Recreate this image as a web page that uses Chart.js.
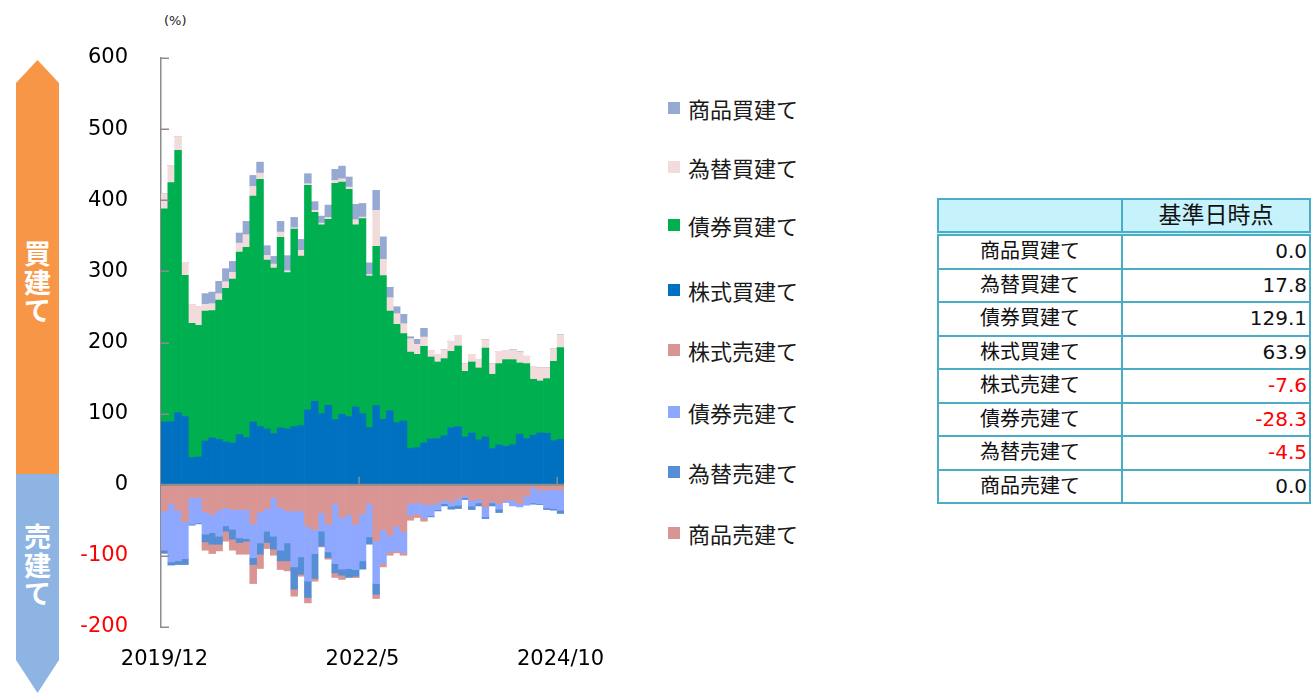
<!DOCTYPE html>
<html>
<head>
<meta charset="utf-8">
<script src="https://cdn.jsdelivr.net/npm/chart.js@4.4.0/dist/chart.umd.min.js"></script>
<style>
html,body{margin:0;padding:0;background:#fff;width:1316px;height:696px;overflow:hidden;font-family:"DejaVu Sans","Noto Sans CJK JP",sans-serif;}
#chartBox{position:absolute;left:0;top:0;width:640px;height:696px;}
.arrow{position:absolute;left:16px;width:43px;}
#buyArrow{top:60px;height:414px;background:#F79646;clip-path:polygon(50% 0,100% 23px,100% 100%,0 100%,0 23px);}
#sellArrow{top:474px;height:219px;background:#8DB4E2;clip-path:polygon(0 0,100% 0,100% calc(100% - 33px),50% 100%,0 calc(100% - 33px));}
.arrowText{position:absolute;left:0;width:100%;color:#fff;font-weight:bold;font-size:27px;line-height:28.5px;text-align:center;font-family:"Noto Sans CJK JP",sans-serif;}
#unit{position:absolute;left:164px;top:13px;font-size:13px;color:#222;}
#legend{position:absolute;left:0;top:0;}
.lg{position:absolute;left:668px;height:24px;display:flex;align-items:center;font-size:22px;color:#1a1a1a;white-space:nowrap;}
.lg i{display:inline-block;width:12px;height:12px;margin-right:8px;}
#tbl{position:absolute;left:937px;top:198px;border-collapse:collapse;font-size:20px;color:#111;}
#tbl td{border:2px solid #4BACC6;padding:0;height:31.5px;line-height:31.5px;}
#tbl tr.hd td{background:#C6F2FC;height:31px;line-height:31px;border-bottom:5px double #4BACC6;}
#tbl td.c1{width:182px;text-align:center;}
#tbl td.c2{width:184px;text-align:right;padding-right:2px;}
</style>
</head>
<body>
<div id="buyArrow" class="arrow"><div class="arrowText" style="top:179px">買<br>建<br>て</div></div>
<div id="sellArrow" class="arrow"><div class="arrowText" style="top:48px">売<br>建<br>て</div></div>
<div id="unit">(%)</div>
<div id="chartBox"><canvas id="c" width="640" height="696"></canvas></div>
<div id="legend"></div>
<table id="tbl"></table>
<script>
const categories = ['2019/12','2020/1','2020/2','2020/3','2020/4','2020/5','2020/6','2020/7','2020/8','2020/9','2020/10','2020/11','2020/12',
 '2021/1','2021/2','2021/3','2021/4','2021/5','2021/6','2021/7','2021/8','2021/9','2021/10','2021/11','2021/12',
 '2022/1','2022/2','2022/3','2022/4','2022/5','2022/6','2022/7','2022/8','2022/9','2022/10','2022/11','2022/12',
 '2023/1','2023/2','2023/3','2023/4','2023/5','2023/6','2023/7','2023/8','2023/9','2023/10','2023/11','2023/12',
 '2024/1','2024/2','2024/3','2024/4','2024/5','2024/6','2024/7','2024/8','2024/9','2024/10'];
const tickLabels = ['2019/12','2022/5','2024/10'];
const yTicks = {min:-200, max:600, step:100};

const stockBuy = [88.3,88.9,101.4,95.8,38.2,39.1,61.6,65.8,63.5,60.2,58.7,70.5,66.3,88.3,81.8,78.4,71.9,79.8,78.4,81.8,83.2,105.1,117.3,100,111.7,91.6,99.1,95.8,109.3,
 100,80.4,111.3,92,104.2,87.4,89.7,50.9,52.3,58.8,64.4,65,69.1,80.4,81.8,67.2,72.8,63,67.2,50.9,55.9,54.1,56.2,71,64.7,69.6,72.8,72.4,62.1,63.9];
const bondBuy = [299.8,335.8,368.7,198.6,188.8,185,182.7,179,196.2,215.9,230.5,256.7,267.5,317.6,347.5,237.5,232.8,268,219.8,277.7,238.3,315.8,265.6,265.6,261.4,332.1,326.4,319.5,256.3,
 274.1,213.1,223.9,202,140,138.1,122.7,135.7,131.1,135.8,115.2,107.6,108.2,107.2,113.3,92.3,99.8,101.2,125.1,104.4,114.4,121.8,119.7,100.2,105.6,78.7,73.1,76.8,111.5,129.1];
const fxBuy = [21.1,24.3,19.6,18.3,26.7,26.7,9.4,9.8,9,9.4,9.4,12.6,17.8,13.6,8.9,6.6,5.6,7.5,2.8,1.9,8,2.4,2.8,2.3,2.8,4.2,4.8,3.2,7.1,
 2.3,2.3,50.6,22.9,18.9,15.1,14.1,18.8,14,13.1,9.4,10.8,12.7,14.1,15,10.8,10.8,12.2,11.8,15,17.3,13.1,14.1,15.4,10.3,18.2,18.8,15.5,17.8,17.8];
const commBuy = [0,0,0,0,0,0,15,16.3,17.3,18.3,15.4,14.1,18.7,15.4,15.4,13.6,10.8,15,21.1,14.5,15.5,14,12.3,9.8,17.3,15.5,17.7,14,21.5,
 18.8,15.9,28.1,31.3,14.4,9.3,13.1,2.3,7.1,12.2,0,0,0,0,0,0,0,0,0,0,0,0,0,0,0,0,0,0,0,0];
const stockSell = [-36.8,-26.5,-35.8,-52.2,-18,-18,-38.2,-41.5,-35.8,-32.1,-34.9,-34.9,-34.9,-54.6,-38.2,-33.5,-18,-32.1,-36.8,-36.8,-36.8,-58.3,-63,-39.6,-55.5,-26.5,-46.1,-42,-55.5,
 -40.5,-26.5,-79,-63,-71,-58.3,-66.3,-26.5,-25.1,-27.4,-27.9,-25.6,-21.8,-24.1,-19.4,-14.8,-21.8,-20.4,-31.2,-23.2,-26.5,-21.8,-21.8,-26.5,-16.2,-4,-7.7,-7.7,-6.8,-7.6];
const bondSell = [-55.2,-82,-71.2,-51.6,-37.5,-35.6,-31.4,-25.7,-36.6,-25.7,-27.6,-39.8,-40.7,-47.8,-43.6,-31.8,-54.4,-59.9,-45,-78.7,-64.6,-77.3,-33.7,-25.7,-38.9,-84.3,-72.6,-75.8,-63.7,
 -66.5,-46.8,-59.9,-47.8,-23.4,-34.7,-29.5,-16.4,-15.4,-19.2,-15.9,-9.3,-4.7,-6.1,-9.4,-3.2,-8.4,-5.2,-14,-2.4,-7.9,-3.3,-8,-4.7,-12.6,-21.6,-18.8,-24.9,-26.7,-28.3];
const fxSell = [-3.8,-4.5,-5.2,-8.4,-1.4,-1.4,-10.7,-16.4,-11.2,-7.5,-14.1,-6.6,-3.8,-9.8,-15.9,-16,-18.2,-15,-25.2,-31.3,-24.4,-22.9,-35.1,-21.1,-8,-13.1,-8.5,-12.6,-9.4,
 -11.7,-10.3,-15,0,0,0,0,0,0,0,-1.4,-1.9,-3.3,-4.2,-4.7,-2.8,-4.7,-4.2,-2.4,-4.2,-4.7,0,0,0,0,-1.8,-1.4,-2.3,-2.3,-4.5];
const commSell = [-1,0,0,0,0,0,-11.7,-13.1,-9.4,-14.1,-15.4,-16.4,-18.3,-26.7,-20.1,-8.4,-8.5,-12.2,-14.1,-9.9,-2.8,-7.6,-3.8,-1,-2.3,-6.5,-6,0,-1.9,
 0,0,-6.1,-4.7,-4.7,-2.8,-3.3,-7,-5.6,-4.7,0,0,0,0,0,0,0,0,0,0,0,0,0,0,0,0,0,0,0,0];

const seriesNames = ['株式買建て','債券買建て','為替買建て','商品買建て','株式売建て','債券売建て','為替売建て','商品売建て'];
const seriesColors = ['#0070C0','#00B050','#F2DCDB','#95A9D2','#D99594','#8FA8FF','#558ED5','#D99594'];
const seriesData = [stockBuy,bondBuy,fxBuy,commBuy,stockSell,bondSell,fxSell,commSell];
const legendOrder = [3,2,1,0,4,5,6,7];
const legendY = [108,167,225,290,350,412,472,533];

const tableLabels = ['商品買建て','為替買建て','債券買建て','株式買建て','株式売建て','債券売建て','為替売建て','商品売建て'];
const tableValues = [0.0,17.8,129.1,63.9,-7.6,-28.3,-4.5,0.0];

// legend
const lg = document.getElementById('legend');
legendOrder.forEach((si,k)=>{
  const d = document.createElement('div');
  d.className='lg'; d.style.top=(legendY[k]-12)+'px';
  d.innerHTML = '<i style="background:'+seriesColors[si]+'"></i>'+seriesNames[si];
  lg.appendChild(d);
});
// table
const tb = document.getElementById('tbl');
let html = '<tr class="hd"><td class="c1"></td><td class="c2" style="text-align:center;padding-right:0;font-size:23px">基準日時点</td></tr>';
tableLabels.forEach((l,i)=>{
  const v = tableValues[i];
  html += '<tr><td class="c1">'+l+'</td><td class="c2" style="color:'+(v<0?'#FF0000':'#111')+'">'+v.toFixed(1)+'</td></tr>';
});
tb.innerHTML = html;

const innerTicks = {
  id:'innerTicks',
  afterDatasetsDraw(chart){
    const {ctx, chartArea, scales:{x,y}} = chart;
    ctx.save();
    ctx.strokeStyle='#8c8c8c';
    ctx.lineWidth=1.5;
    y.ticks.forEach(t=>{
      const py = Math.round(y.getPixelForValue(t.value))+0.25;
      ctx.beginPath(); ctx.moveTo(chartArea.left,py); ctx.lineTo(chartArea.left+8,py); ctx.stroke();
    });
    const y0 = y.getPixelForValue(0);
    ctx.lineWidth=2;
    ctx.beginPath(); ctx.moveTo(chartArea.left,y0); ctx.lineTo(chartArea.right,y0); ctx.stroke();
    const half = (x.getPixelForValue(1)-x.getPixelForValue(0))/2;
    ctx.lineWidth=1.5;
    tickLabels.forEach(l=>{
      const i = categories.indexOf(l);
      if(i<=0) return;
      const px = x.getPixelForValue(i)-half;
      ctx.beginPath(); ctx.moveTo(px,y0); ctx.lineTo(px,y0-8); ctx.stroke();
    });
    ctx.restore();
  }
};

new Chart(document.getElementById('c'),{
  type:'bar',
  data:{
    labels:categories,
    datasets: seriesData.map((d,i)=>({label:seriesNames[i],data:d,backgroundColor:seriesColors[i],borderWidth:0,categoryPercentage:1,barPercentage:1}))
  },
  options:{
    responsive:false,
    animation:false,
    layout:{padding:{top:58,left:0,right:76,bottom:0}},
    plugins:{legend:{display:false},tooltip:{enabled:true}},
    scales:{
      x:{
        stacked:true,
        grid:{display:false},
        border:{display:false},
        afterFit(s){s.height=69;},
        ticks:{
          autoSkip:false,maxRotation:0,minRotation:0,padding:12,color:'#000',
          font:{family:'"DejaVu Sans"',size:21},
          callback(v,i){const l=categories[i];return tickLabels.includes(l)?l:'';}
        }
      },
      y:{
        stacked:true,
        min:yTicks.min,max:yTicks.max,
        afterFit(s){s.width=161;},
        grid:{display:true,color:'rgba(0,0,0,0)',drawTicks:false},
        border:{display:true,color:'#8c8c8c',width:1.5},
        ticks:{
          stepSize:yTicks.step,padding:33,
          font:{family:'"DejaVu Sans"',size:21},
          color:(c)=>c.tick && c.tick.value<0?'#FF0000':'#000'
        }
      }
    }
  },
  plugins:[innerTicks]
});
</script>
</body>
</html>
